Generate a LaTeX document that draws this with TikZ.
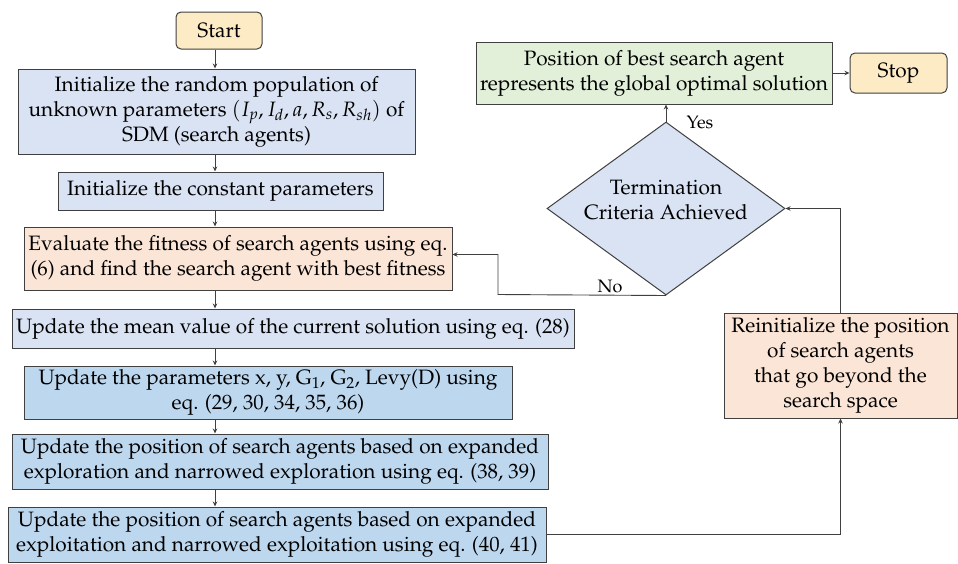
\documentclass[tikz,border=0pt]{standalone}
\usepackage[T1]{fontenc}
\usepackage{mathpazo}
\usetikzlibrary{shapes.geometric,arrows.meta,calc}
\definecolor{cstart}{HTML}{FCEBC4}
\definecolor{clight}{HTML}{DAE3F3}
\definecolor{cdark}{HTML}{BDD7EE}
\definecolor{corange}{HTML}{FBE5D6}
\definecolor{cgreen}{HTML}{E2F0D9}
\definecolor{cline}{HTML}{404040}
\tikzset{
  base/.style={draw=cline, line width=1pt, inner sep=0pt, align=center, text=black,
    font=\fontsize{20.8}{25}\selectfont},
  term/.style={base, rounded corners=5pt, fill=cstart},
  lbox/.style={base, fill=clight},
  dbox/.style={base, fill=cdark},
  obox/.style={base, fill=corange},
  gbox/.style={base, fill=cgreen},
  decide/.style={base, diamond, fill=clight, aspect=1.376},
  plain/.style={inner sep=0pt, align=center, font=\fontsize{20.8}{25}\selectfont},
  arr/.style={draw=cline, line width=0.9pt, -{Stealth[length=5pt,width=4.5pt]}},
  lab/.style={font=\fontsize{18}{20}\selectfont, inner sep=0pt}
}
\begin{document}
\begin{tikzpicture}[x=1pt,y=-1pt]
\useasboundingbox (0,0) rectangle (958,563);
\node[term, minimum width=86pt, minimum height=37pt] (start) at (219,30.5) {Start};
\node[lbox, minimum width=397pt, minimum height=85pt] (b1) at (216.5,111.5)
  {Initialize the random population of\\ unknown parameters $(I_p, I_d, a, R_s, R_{sh})$ of\\ SDM (search agents)};
\node[lbox, minimum width=325pt, minimum height=38pt] (b2) at (220.5,191) {Initialize the constant parameters};
\node[obox, minimum width=428pt, minimum height=63pt] (b3) at (238,258.5)
  {Evaluate the fitness of search agents using eq.\\ (6) and find the search agent with best fitness};
\node[lbox, minimum width=562pt, minimum height=39pt] (b4) at (293,328.5)
  {Update the mean value of the current solution using eq. (28)};
\node[dbox, minimum width=488pt, minimum height=53pt] (b5) at (268,392.5)
  {Update the parameters x, y, G$_1$, G$_2$, Levy(D) using\\ eq. (29, 30, 34, 35, 36)};
\node[dbox, minimum width=536pt, minimum height=55pt] (b6) at (280,461.5)
  {Update the position of search agents based on expanded\\ exploration and narrowed exploration using eq. (38, 39)};
\node[dbox, minimum width=538pt, minimum height=55pt] (b7) at (277,534.5)
  {Update the position of search agents based on expanded\\ exploitation and narrowed exploitation using eq. (40, 41)};
\node[gbox, minimum width=356pt, minimum height=62pt] (green) at (654,73)
  {Position of best search agent\\ represents the global optimal solution};
\node[term, minimum width=97pt, minimum height=40pt] (stop) at (898.5,73) {Stop};
\node[decide, minimum width=238pt, minimum height=173pt] (dia) at (666,208.5) {};
\node[plain] (diatext) at (666,200) {Termination\\ Criteria Achieved};
\node[obox, minimum width=233pt, minimum height=105pt] (reinit) at (840.5,365.5)
  {Reinitialize the position\\ of search agents\\ that go beyond the\\ search space};
\coordinate (col) at (215,0);
\coordinate (nocorner) at (498,294.5);
\draw[arr] (col |- start.south) -- (col |- b1.north);
\draw[arr] (col |- b1.south) -- (col |- b2.north);
\draw[arr] (col |- b2.south) -- (col |- b3.north);
\draw[arr] (col |- b3.south) -- (col |- b4.north);
\draw[arr] (col |- b4.south) -- (col |- b5.north);
\draw[arr] (col |- b5.south) -- (col |- b6.north);
\draw[arr] (col |- b6.south) -- (col |- b7.north);
\draw[arr] (b7.east) -| (reinit.south);
\draw[arr] (reinit.north) |- (dia.east);
\draw[arr] (dia.south) -- (nocorner) |- ($(b3.east)+(0,-4)$);
\draw[arr] (dia.north) -- (dia.north |- green.south);
\draw[arr] (green.east) -- (stop.west);
\node[lab] (yes) at (700,122) {Yes};
\node[lab] (no) at (610,286) {No};
\end{tikzpicture}
\end{document}
